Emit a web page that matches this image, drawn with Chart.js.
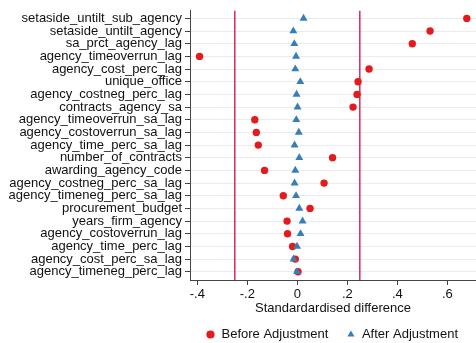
<!DOCTYPE html>
<html>
<head>
<meta charset="utf-8">
<script src="https://cdn.jsdelivr.net/npm/chart.js@4.4.1/dist/chart.umd.min.js"></script>
<style>
  html, body { margin: 0; padding: 0; background: #fff; }
</style>
</head>
<body>
<canvas id="balanceChart" width="476" height="343"></canvas>
<script>
const covariates = [
  "setaside_untilt_sub_agency", "setaside_untilt_agency", "sa_prct_agency_lag",
  "agency_timeoverrun_lag", "agency_cost_perc_lag", "unique_office",
  "agency_costneg_perc_lag", "contracts_agency_sa", "agency_timeoverrun_sa_lag",
  "agency_costoverrun_sa_lag", "agency_time_perc_sa_lag", "number_of_contracts",
  "awarding_agency_code", "agency_costneg_perc_sa_lag", "agency_timeneg_perc_sa_lag",
  "procurement_budget", "years_firm_agency", "agency_costoverrun_lag",
  "agency_time_perc_lag", "agency_cost_perc_sa_lag", "agency_timeneg_perc_lag"
];
const beforeAdj = [0.678, 0.531, 0.460, -0.391, 0.287, 0.243, 0.239, 0.223, -0.170, -0.164,
  -0.156, 0.141, -0.131, 0.107, -0.056, 0.051, -0.041, -0.039, -0.019, -0.008, 0.003];
const afterAdj = [0.025, -0.016, -0.012, -0.005, -0.008, 0.012, -0.003, 0.001, -0.004, 0.006,
  -0.011, 0.008, -0.008, -0.011, -0.005, 0.008, 0.021, 0.013, -0.001, -0.015, -0.001];
const xTicks = [-0.4, -0.2, 0, 0.2, 0.4, 0.6];
const xTickLabels = ["-.4", "-.2", "0", ".2", ".4", ".6"];
const thresholds = [-0.25, 0.25];

Chart.defaults.font.family = "'Liberation Sans', Arial, sans-serif";
Chart.defaults.font.size = 13;
Chart.defaults.color = "#111";

// red reference lines at +/- .25
const refLines = {
  id: "refLines",
  beforeDatasetsDraw(chart) {
    const { ctx, chartArea, scales } = chart;
    ctx.save();
    ctx.strokeStyle = "#d42a5b";
    ctx.lineWidth = 1.5;
    thresholds.forEach(t => {
      const px = scales.x.getPixelForValue(t);
      ctx.beginPath();
      ctx.moveTo(px, chartArea.top);
      ctx.lineTo(px, chartArea.bottom);
      ctx.stroke();
    });
    ctx.restore();
  }
};

// center legend under the plot region, like stata does
const legendShift = {
  id: "legendShift",
  afterLayout(chart) {
    const lg = chart.legend;
    lg.left = chart.chartArea.left - 12;
    lg.right = chart.chartArea.right + 10;
    lg.top = 310;
  }
};

function toPoints(vals) {
  return vals.map((v, i) => ({ x: v, y: i + 1 }));
}

new Chart("balanceChart", {
  type: "scatter",
  data: {
    datasets: [
      {
        label: "Before Adjustment",
        data: toPoints(beforeAdj),
        pointStyle: "circle",
        pointRadius: 3.7,
        backgroundColor: "#e41a1c",
        borderColor: "#e41a1c",
        borderWidth: 0,
        order: 2,
        clip: false
      },
      {
        label: "After Adjustment",
        data: toPoints(afterAdj),
        pointStyle: "triangle",
        pointRadius: 4.6,
        backgroundColor: "#377eb8",
        borderColor: "#377eb8",
        borderWidth: 0,
        order: 1,
        clip: false
      }
    ]
  },
  options: {
    responsive: false,
    animation: false,
    layout: { autoPadding: false, padding: { top: 10, left: 0, right: 0, bottom: 0 } },
    plugins: {
      tooltip: { enabled: false },
      legend: {
        position: "bottom",
        maxHeight: 27,
        labels: {
          usePointStyle: true,
          boxWidth: 9,
          boxHeight: 5.8,
          padding: 18,
          sort: (a, b) => a.datasetIndex - b.datasetIndex
        }
      }
    },
    scales: {
      x: {
        type: "linear",
        min: -0.4292,
        max: 0.7148,
        afterBuildTicks: s => { s.ticks = xTicks.map(v => ({ value: v })); },
        afterFit: s => { s.height = 36; },
        ticks: {
          padding: 2,
          maxRotation: 0,
          callback: v => xTickLabels[xTicks.indexOf(v)]
        },
        grid: {
          drawOnChartArea: false,
          drawTicks: true,
          tickLength: 5,
          tickColor: "#444"
        },
        border: { display: true, color: "#444", width: 1 },
        title: {
          display: true,
          text: "Standardardised difference",
          padding: { top: 0, bottom: 0 }
        }
      },
      y: {
        type: "linear",
        reverse: true,
        min: 0.4,
        max: 21.65,
        afterBuildTicks: s => { s.ticks = covariates.map((c, i) => ({ value: i + 1 })); },
        afterFit: s => { s.width = 190; },
        ticks: {
          autoSkip: false,
          padding: 3,
          callback: v => covariates[v - 1]
        },
        grid: {
          color: "#ebebeb",
          lineWidth: 1,
          drawTicks: true,
          tickLength: 5,
          tickColor: "#444"
        },
        border: { display: true, color: "#444", width: 1 }
      }
    }
  },
  plugins: [refLines, legendShift]
});
</script>
</body>
</html>
